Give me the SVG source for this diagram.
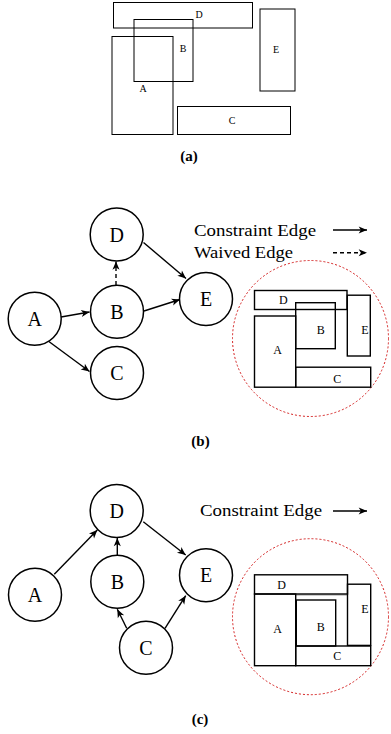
<svg xmlns="http://www.w3.org/2000/svg" width="391" height="734" viewBox="0 0 391 734">
<style>
.bg{fill:#fff}
.r{fill:none;stroke:#000;stroke-width:1.4}
.ra{fill:none;stroke:#000;stroke-width:1}
.nd{fill:#fff;stroke:#000;stroke-width:1.5}
.e{fill:none;stroke:#000;stroke-width:1.4;marker-end:url(#ah)}
.dash{stroke-dasharray:4,3}
.zone{fill:none;stroke:#d42020;stroke-width:1;stroke-dasharray:2,2}
.tn{font-family:"Liberation Serif","DejaVu Serif",serif;font-size:20px;text-anchor:middle;fill:#000}
.tr{font-family:"Liberation Serif","DejaVu Serif",serif;font-size:12px;text-anchor:middle;fill:#000}
.ta{font-family:"Liberation Serif","DejaVu Serif",serif;font-size:10px;text-anchor:middle;fill:#000}
.tl{font-family:"Liberation Serif","DejaVu Serif",serif;font-size:17px;fill:#000}
.cap{font-family:"Liberation Serif","DejaVu Serif",serif;font-size:15px;font-weight:bold;text-anchor:middle;fill:#000}
</style>
<defs>
<marker id="ah" markerWidth="10" markerHeight="10" viewBox="-8 -4 9 8" refX="0" refY="0" orient="auto" markerUnits="userSpaceOnUse">
<path d="M0,0 L-7.5,-3.2 L-5.5,0 L-7.5,3.2 Z" fill="#000"/>
</marker>
</defs>
<rect class="bg" x="0" y="0" width="391" height="734"/>

<!-- (a) -->
<g id="a-D"><rect class="ra" x="113.5" y="2.5" width="139" height="25.5"/><text class="ta" x="199" y="18">D</text></g>
<g id="a-B"><rect class="ra" x="134" y="19.5" width="59" height="62"/><text class="ta" x="183" y="52">B</text></g>
<g id="a-A"><rect class="ra" x="112" y="36.5" width="61" height="98"/><text class="ta" x="143" y="92">A</text></g>
<g id="a-E"><rect class="ra" x="260" y="9" width="35" height="82"/><text class="ta" x="276" y="53">E</text></g>
<g id="a-C"><rect class="ra" x="177.5" y="106.5" width="113" height="28"/><text class="ta" x="232" y="124">C</text></g>
<text class="cap" x="189" y="161">(a)</text>

<!-- (b) -->
<g id="b-edges">
<line class="e" x1="61" y1="317" x2="89.5" y2="312"/>
<line class="e" x1="47.5" y1="340.5" x2="89.5" y2="371.5"/>
<line class="e dash" x1="116" y1="285" x2="116" y2="261.5"/>
<line class="e" x1="144" y1="311" x2="180" y2="299.5"/>
<line class="e" x1="143.5" y1="242.5" x2="186" y2="278.5"/>
<line class="e" x1="333" y1="230" x2="367" y2="230"/>
<line class="e dash" x1="333" y1="252.7" x2="367" y2="252.7"/>
</g>
<g id="b-A"><circle class="nd" cx="34.7" cy="318.7" r="26.5"/><text class="tn" x="34.7" y="325.7">A</text></g>
<g id="b-B"><circle class="nd" cx="117" cy="311.7" r="26.5"/><text class="tn" x="117" y="318.7">B</text></g>
<g id="b-C"><circle class="nd" cx="117" cy="373" r="26.5"/><text class="tn" x="117" y="380">C</text></g>
<g id="b-D"><circle class="nd" cx="116.7" cy="234.5" r="26.5"/><text class="tn" x="116.7" y="241.5">D</text></g>
<g id="b-E"><circle class="nd" cx="206" cy="299" r="26.5"/><text class="tn" x="206" y="306">E</text></g>
<text class="tl" x="194" y="235.5" textLength="122" lengthAdjust="spacingAndGlyphs">Constraint Edge</text>
<text class="tl" x="194" y="258" textLength="99" lengthAdjust="spacingAndGlyphs">Waived Edge</text>
<circle class="zone" cx="310.5" cy="338.5" r="78"/>
<g id="b-rD"><rect class="r" x="254.5" y="290.5" width="92.5" height="19"/><text class="tr" x="283.3" y="304.3">D</text></g>
<g id="b-rB"><rect class="r" x="295.7" y="302.7" width="39.6" height="46"/><text class="tr" x="320.7" y="333.6">B</text></g>
<g id="b-rA"><rect class="r" x="254.5" y="316" width="41.2" height="71.2"/><text class="tr" x="277.7" y="353.6">A</text></g>
<g id="b-rE"><rect class="r" x="347.3" y="295.2" width="23" height="60.8"/><text class="tr" x="365" y="333.6">E</text></g>
<g id="b-rC"><rect class="r" x="295.7" y="367.2" width="75" height="20"/><text class="tr" x="337.3" y="383.3">C</text></g>
<text class="cap" x="200.5" y="446">(b)</text>

<!-- (c) -->
<g id="c-edges">
<line class="e" x1="54.3" y1="574.3" x2="97.3" y2="530"/>
<line class="e" x1="117.3" y1="555" x2="117.3" y2="538"/>
<line class="e" x1="143.3" y1="521.7" x2="185.7" y2="555"/>
<line class="e" x1="126.7" y1="628.3" x2="117.3" y2="609.3"/>
<line class="e" x1="165" y1="628.3" x2="185.7" y2="595.7"/>
<line class="e" x1="333" y1="511" x2="367" y2="511"/>
</g>
<g id="c-D"><circle class="nd" cx="116.7" cy="511" r="26.5"/><text class="tn" x="116.7" y="518">D</text></g>
<g id="c-B"><circle class="nd" cx="117.3" cy="581.7" r="26.5"/><text class="tn" x="117.3" y="588.7">B</text></g>
<g id="c-A"><circle class="nd" cx="35" cy="594.7" r="26.5"/><text class="tn" x="35" y="601.7">A</text></g>
<g id="c-E"><circle class="nd" cx="206" cy="575.3" r="26.5"/><text class="tn" x="206" y="582.3">E</text></g>
<g id="c-C"><circle class="nd" cx="146" cy="647.7" r="26.5"/><text class="tn" x="146" y="654.7">C</text></g>
<text class="tl" x="200" y="516" textLength="122" lengthAdjust="spacingAndGlyphs">Constraint Edge</text>
<circle class="zone" cx="310.5" cy="616.7" r="78"/>
<line x1="296" y1="595" x2="347.5" y2="595" stroke="#999" stroke-width="1"/>
<g id="c-rD"><rect class="r" x="254.5" y="574.8" width="93" height="19.2"/><text class="tr" x="281.7" y="589">D</text></g>
<g id="c-rE"><rect class="r" x="347.5" y="584.2" width="23.2" height="61.2"/><text class="tr" x="365" y="613.3">E</text></g>
<g id="c-rA"><rect class="r" x="254.5" y="594" width="41.2" height="71.7"/><text class="tr" x="277.7" y="633.3">A</text></g>
<g id="c-rB"><rect class="r" x="296.3" y="600" width="39.4" height="46"/><text class="tr" x="320.7" y="630.7">B</text></g>
<g id="c-rC"><rect class="r" x="295.7" y="646" width="75" height="19.7"/><text class="tr" x="337.3" y="660">C</text></g>
<text class="cap" x="200" y="724">(c)</text>
</svg>
